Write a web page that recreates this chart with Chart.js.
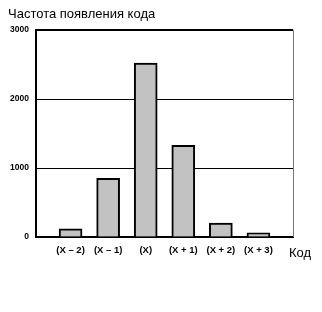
<!DOCTYPE html>
<html>
<head>
<meta charset="utf-8">
<script src="https://cdn.jsdelivr.net/npm/chart.js@4.4.1/dist/chart.umd.min.js"></script>
<style>
  html, body { margin: 0; padding: 0; background: #fff; }
  #wrap { width: 322px; height: 312px; position: relative; }
</style>
</head>
<body>
<div id="wrap"><canvas id="chart"></canvas></div>
<script>
// ── Data ───────────────────────────────────────────────────────────────────────
const categories = ['(X – 2)', '(X – 1)', '(X)', '(X + 1)', '(X + 2)', '(X + 3)'];
const frequency  = [120, 850, 2520, 1330, 200, 60];
const yTicks     = [0, 1000, 2000, 3000];

const chartTitle = 'Частота появления кода';
const xAxisName  = 'Код';

const FONT = '"Liberation Sans", Arial, Helvetica, sans-serif';

// ── Plugins ────────────────────────────────────────────────────────────────────

// top + right frame of plot, plus the "Код" label next to the x axis
const framePlugin = {
  id: 'frame',
  afterDraw(chart) {
    const { ctx, chartArea: a } = chart;
    ctx.save();
    ctx.strokeStyle = '#000';
    ctx.lineWidth = 2;
    ctx.beginPath();
    ctx.moveTo(a.left - 1, a.top);
    ctx.lineTo(a.right, a.top);
    ctx.stroke();
    ctx.strokeStyle = '#777';
    ctx.lineWidth = 1;
    ctx.beginPath();
    ctx.moveTo(a.right + 0.5, a.top);
    ctx.lineTo(a.right + 0.5, a.bottom);
    ctx.stroke();

    ctx.fillStyle = '#000';
    ctx.font = '13px ' + FONT;
    ctx.textAlign = 'left';
    ctx.textBaseline = 'alphabetic';
    ctx.fillText(xAxisName, a.right - 4, a.bottom + 20);
    ctx.restore();
  }
};

// ── Chart ──────────────────────────────────────────────────────────────────────

const ctx = document.getElementById('chart').getContext('2d');
new Chart(ctx, {
  type: 'bar',
  data: {
    datasets: [{
      data: frequency.map((v, i) => ({ x: i, y: v })),
      backgroundColor: '#c2c2c2',
      borderColor: '#000',
      borderWidth: 2,
      borderSkipped: 'bottom',
      barThickness: 23
    }]
  },
  options: {
    responsive: true,
    maintainAspectRatio: false,
    animation: false,
    layout: { padding: { left: 8, right: 29, top: 0, bottom: 0 } },
    plugins: {
      legend: { display: false },
      tooltip: { enabled: false },
      title: {
        display: true,
        text: chartTitle,
        align: 'start',
        color: '#000',
        font: { family: FONT, size: 13, weight: 'normal', lineHeight: 1.2 },
        padding: { top: 7, bottom: 7.4 }
      }
    },
    scales: {
      x: {
        type: 'linear',
        offset: false,
        min: -0.92,
        max: 5.92,
        afterFit: s => { s.height = 75; },
        afterBuildTicks: s => { s.ticks = categories.map((_, i) => ({ value: i })); },
        grid: { display: false, drawTicks: false },
        border: { display: true, color: '#000', width: 2 },
        ticks: {
          color: '#000',
          padding: 8,
          maxRotation: 0,
          autoSkip: false,
          font: { family: FONT, size: 9.5, weight: 'bold' },
          callback: v => categories[v]
        }
      },
      y: {
        min: 0,
        max: 3000,
        afterFit: s => { s.width = 28; },
        afterBuildTicks: s => { s.ticks = yTicks.map(v => ({ value: v })); },
        grid: {
          drawTicks: false,
          color: c => (c.tick && (c.tick.value === 0 || c.tick.value === 3000)) ? 'rgba(0,0,0,0)' : '#000',
          lineWidth: 1
        },
        border: { display: true, color: '#000', width: 2 },
        ticks: {
          color: '#000',
          padding: 7,
          font: { family: FONT, size: 8.5, weight: 'bold' },
          callback: v => String(v)
        }
      }
    }
  },
  plugins: [framePlugin]
});
</script>
</body>
</html>
